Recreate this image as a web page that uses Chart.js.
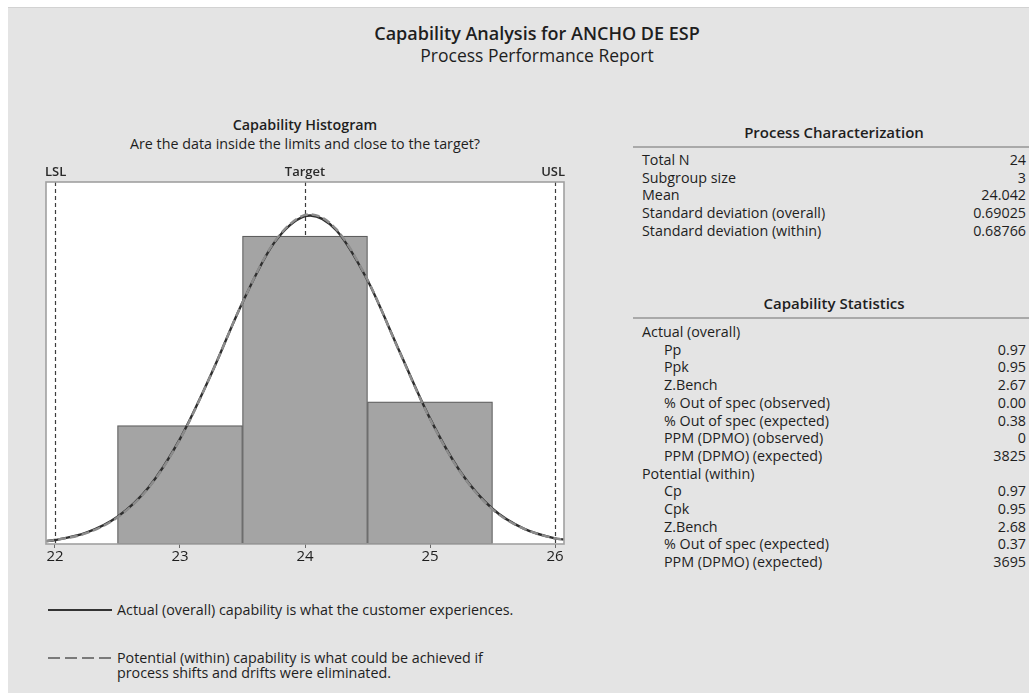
<!DOCTYPE html>
<html>
<head>
<meta charset="utf-8">
<script src="https://cdn.jsdelivr.net/npm/chart.js@4.4.0/dist/chart.umd.min.js"></script>
<style>
  body { margin: 0; width: 1029px; height: 693px; overflow: hidden; background: #fff;
         font-family: 'Open Sans', sans-serif; color: #1e1e1e; position: relative; }
  #panel { position: absolute; left: 8px; top: 7px; right: 0; bottom: 0; background: #e4e4e4;
           border-top: 1px solid #d2d2d2; }
  .t { position: absolute; white-space: nowrap; line-height: 18px; }
  .c { text-align: center; }
  .r { text-align: right; }
  #title { left: 287px; width: 500px; top: 22px; font-size: 18px; font-weight: 600; line-height: 22px; }
  #subtitle { left: 287px; width: 500px; top: 44px; font-size: 17.5px; line-height: 22px; }
  #hist-title { left: 105px; width: 400px; top: 116px; font-size: 14.3px; font-weight: 600; }
  #hist-sub { left: 55px; width: 500px; top: 135px; font-size: 14.3px; }
  #chart { position: absolute; left: 44px; top: 160px; }
  .head { font-size: 15px; font-weight: 600; left: 634px; width: 400px; text-align: center; }
  .rule { position: absolute; left: 633px; right: 0; height: 0; border-top: 2px solid #a9a9a9; }
  .row { font-size: 14.3px; }
  .sample { position: absolute; left: 48px; width: 64px; height: 2px; }
  .legend { font-size: 14.3px; left: 117px; }
</style>
</head>
<body>
<div id="panel"></div>

<div class="t c" id="title">Capability Analysis for ANCHO DE ESP</div>
<div class="t c" id="subtitle">Process Performance Report</div>

<div class="t c" id="hist-title">Capability Histogram</div>
<div class="t c" id="hist-sub">Are the data inside the limits and close to the target?</div>

<canvas id="chart" width="522" height="414"></canvas>

<div class="sample" style="top:609px;background:#333;"></div>
<div class="t legend" style="top:601px;">Actual (overall) capability is what the customer experiences.</div>
<div class="sample" style="top:657px;background:repeating-linear-gradient(to right,#7a7a7a 0 12px,transparent 12px 17px);"></div>
<div class="t legend" style="top:649px;">Potential (within) capability is what could be achieved if</div>
<div class="t legend" style="top:664px;">process shifts and drifts were eliminated.</div>

<div id="tables"></div>

<script>
// ── Data ──────────────────────────────────────────────────────────────────────
const xTicks     = [22, 23, 24, 25, 26];
const binCenters = [23, 24, 25];
const binCounts  = [5, 13, 6];
const totalN     = 24;
const binWidth   = 1;

// fitted curves (density units)
const curveX   = [21.93, 22, 22.25, 22.5, 22.75, 23, 23.25, 23.5, 23.75, 24, 24.042,
                  24.25, 24.5, 24.75, 25, 25.25, 25.5, 25.75, 26, 26.07];
const overallY = [0.005, 0.007, 0.020, 0.048, 0.100, 0.185, 0.299, 0.425, 0.529, 0.577, 0.578,
                  0.552, 0.464, 0.342, 0.221, 0.125, 0.062, 0.027, 0.010, 0.008];
const withinY  = [0.005, 0.007, 0.019, 0.047, 0.099, 0.184, 0.299, 0.425, 0.530, 0.579, 0.580,
                  0.554, 0.465, 0.341, 0.220, 0.124, 0.061, 0.027, 0.010, 0.008];

const specLabels = ['LSL', 'Target', 'USL'];
const specValues = [22, 24, 26];

const charLabels = ['Total N', 'Subgroup size', 'Mean', 'Standard deviation (overall)', 'Standard deviation (within)'];
const charValues = ['24', '3', '24.042', '0.69025', '0.68766'];

const statLabels = ['Actual (overall)', 'Pp', 'Ppk', 'Z.Bench', '% Out of spec (observed)', '% Out of spec (expected)',
                    'PPM (DPMO) (observed)', 'PPM (DPMO) (expected)', 'Potential (within)', 'Cp', 'Cpk', 'Z.Bench',
                    '% Out of spec (expected)', 'PPM (DPMO) (expected)'];
const statValues = ['', '0.97', '0.95', '2.67', '0.00', '0.38', '0', '3825', '', '0.97', '0.95', '2.68', '0.37', '3695'];

// ── Right-hand tables ─────────────────────────────────────────────────────────
const ROW_H = 17.7;
function block(heading, headY, labels, values, firstRowY, indented) {
  let html = '<div class="t head" style="top:' + (headY - 9) + 'px">' + heading + '</div>' +
             '<div class="rule" style="top:' + (headY + 14) + 'px"></div>';
  labels.forEach((lab, i) => {
    const y = firstRowY + i * ROW_H - 9;
    const x = (indented && values[i] !== '') ? 664 : 642;
    html += '<div class="t row" style="left:' + x + 'px;top:' + y + 'px">' + lab + '</div>';
    if (values[i] !== '')
      html += '<div class="t row r" style="left:826px;width:200px;top:' + y + 'px">' + values[i] + '</div>';
  });
  return html;
}
document.getElementById('tables').innerHTML =
  block('Process Characterization', 132, charLabels, charValues, 160, false) +
  block('Capability Statistics', 303, statLabels, statValues, 332, true);

// ── Chart ─────────────────────────────────────────────────────────────────────
const FONT = "'Open Sans', sans-serif";

const plotFrame = {
  id: 'plotFrame',
  beforeDraw(chart) {
    const { ctx, chartArea: a } = chart;
    ctx.save();
    ctx.fillStyle = '#ffffff';
    ctx.fillRect(a.left, a.top, a.right - a.left, a.bottom - a.top);
    ctx.restore();
  },
  beforeDatasetsDraw(chart) {
    const { ctx, chartArea: a, scales: { x } } = chart;
    ctx.save();
    ctx.strokeStyle = '#3c3c3c';
    ctx.lineWidth = 1.2;
    ctx.setLineDash([4, 3]);
    specValues.forEach(v => {
      const px = Math.round(x.getPixelForValue(v)) + 0.5;
      ctx.beginPath();
      ctx.moveTo(px, a.top);
      ctx.lineTo(px, a.bottom);
      ctx.stroke();
    });
    ctx.setLineDash([]);
    ctx.fillStyle = '#2a2a2a';
    ctx.font = '600 13px ' + FONT;
    ctx.textBaseline = 'middle';
    specLabels.forEach((lab, i) => {
      const px = x.getPixelForValue(specValues[i]);
      if (i === 0) { ctx.textAlign = 'left'; ctx.fillText(lab, a.left - 1, a.top - 10); }
      else if (i === specLabels.length - 1) { ctx.textAlign = 'right'; ctx.fillText(lab, a.right + 1, a.top - 10); }
      else { ctx.textAlign = 'center'; ctx.fillText(lab, px, a.top - 10); }
    });
    ctx.restore();
  },
  afterDraw(chart) {
    const { ctx, chartArea: a } = chart;
    ctx.save();
    ctx.strokeStyle = '#a0a0a0';
    ctx.lineWidth = 1.6;
    ctx.strokeRect(a.left, a.top, a.right - a.left, a.bottom - a.top);
    ctx.restore();
  }
};

new Chart(document.getElementById('chart'), {
  type: 'bar',
  data: {
    datasets: [
      {
        type: 'line',
        label: 'Potential (within)',
        data: curveX.map((v, i) => ({ x: v, y: withinY[i] })),
        borderColor: '#8c8c8c', borderWidth: 2.4, borderDash: [8, 4],
        pointRadius: 0, cubicInterpolationMode: 'monotone', fill: false, order: 1
      },
      {
        type: 'line',
        label: 'Actual (overall)',
        data: curveX.map((v, i) => ({ x: v, y: overallY[i] })),
        borderColor: '#2e2e2e', borderWidth: 2.4,
        pointRadius: 0, cubicInterpolationMode: 'monotone', fill: false, order: 2
      },
      {
        type: 'bar',
        label: 'Histogram',
        data: binCenters.map((c, i) => ({ x: c, y: binCounts[i] / (totalN * binWidth) })),
        backgroundColor: '#a4a4a4', borderColor: '#5e5e5e', borderWidth: 1.2,
        borderSkipped: false, barPercentage: 1, categoryPercentage: 1, grouped: false, order: 3
      }
    ]
  },
  options: {
    responsive: false,
    animation: false,
    devicePixelRatio: 1,
    layout: { padding: { top: 22, left: 2, right: 2, bottom: 0 } },
    plugins: { legend: { display: false }, tooltip: { enabled: false } },
    scales: {
      x: {
        type: 'linear', min: 21.928, max: 26.072, offset: false,
        afterBuildTicks: s => { s.ticks = xTicks.map(v => ({ value: v })); },
        afterFit: s => { s.height = 30; },
        grid: { offset: false, drawOnChartArea: false, drawTicks: true, tickLength: 4, color: '#6a6a6a' },
        border: { display: false },
        ticks: { color: '#1e1e1e', font: { family: FONT, size: 15 }, padding: 0, maxRotation: 0, autoSkip: false }
      },
      y: { min: 0, max: 0.637, display: false }
    }
  },
  plugins: [plotFrame]
});
</script>
</body>
</html>
